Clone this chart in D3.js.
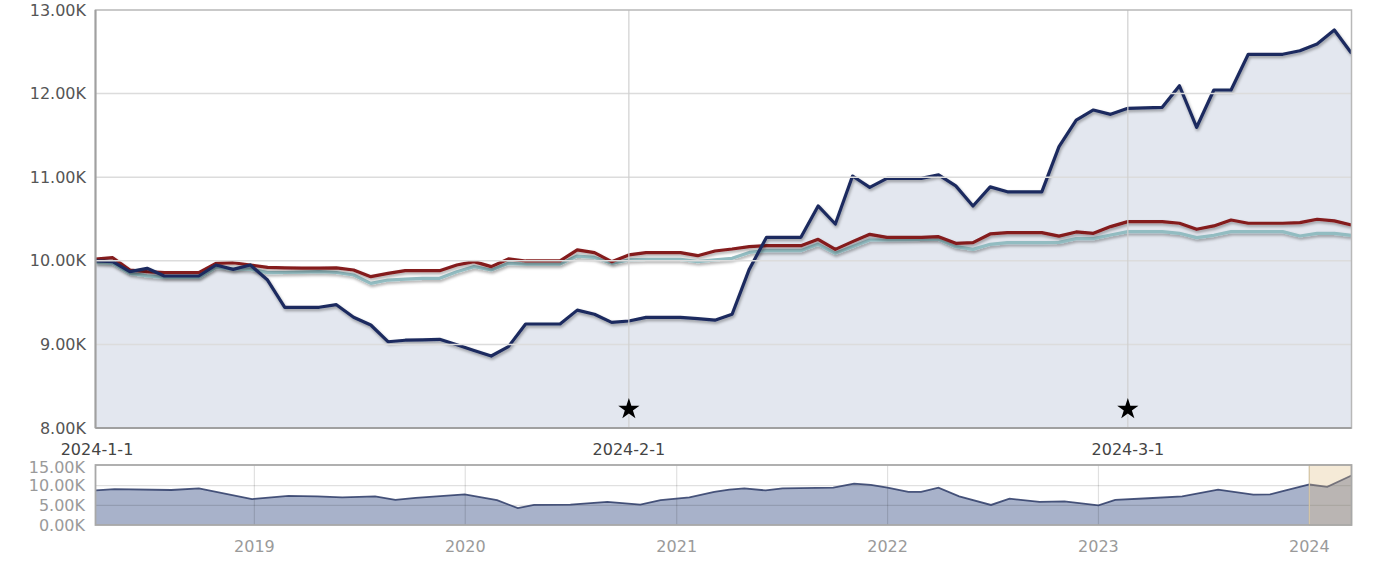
<!DOCTYPE html>
<html><head><meta charset="utf-8">
<script src="https://cdn.jsdelivr.net/npm/d3@7"></script>
<style>
html,body{margin:0;padding:0;background:#fff;}
svg{display:block;font-family:"DejaVu Sans",Verdana,sans-serif;}
</style></head><body>
<svg id="chart" width="1396" height="574"></svg>
<script>
// ---------- data ----------
const startDate = "2024-01-01";
const endDate = "2024-03-14";
const fundValues = [10000,9990,9870,9910,9818,9818,9818,9950,9898,9950,
  9770,9444,9444,9444,9475,9324,9232,9032,9050,9055,
  9061,8995,8928,8861,8973,9244,9244,9244,9410,9360,
  9264,9280,9324,9324,9324,9308,9290,9360,9900,10281,
  10281,10281,10656,10440,11014,10879,10986,10986,10986,11028,
  10896,10656,10884,10825,10825,10825,11365,11684,11804,11752,
  11824,11830,11836,12094,11597,12043,12043,12470,12470,12470,
  12513,12593,12761,12482];
const benchmarkValues = [10020,10037,9890,9870,9858,9858,9858,9970,9977,9950,
  9922,9915,9912,9912,9915,9890,9810,9850,9882,9882,
  9882,9950,9990,9930,10022,9998,9998,9998,10130,10097,
  9990,10070,10097,10097,10097,10061,10117,10141,10170,10181,
  10181,10181,10257,10137,10229,10317,10281,10281,10281,10289,
  10209,10217,10321,10337,10337,10337,10295,10345,10329,10409,
  10469,10469,10469,10449,10377,10417,10488,10449,10449,10449,
  10457,10497,10477,10429];
const categoryValues = [9980,9970,9850,9820,9800,9800,9800,9920,9900,9900,
  9858,9860,9865,9870,9860,9830,9730,9770,9780,9790,
  9790,9870,9930,9890,9970,9960,9960,9960,10057,10040,
  9970,10010,10017,10017,10017,9990,10010,10030,10100,10121,
  10121,10121,10197,10089,10169,10249,10249,10253,10257,10257,
  10169,10137,10197,10217,10217,10217,10220,10265,10265,10309,
  10349,10349,10349,10329,10277,10305,10349,10349,10349,10349,
  10297,10329,10329,10305];
const eventDates = ["2024-02-01","2024-03-01"];
const eventMarkerValue = 8225;
const yTicks = [8000,9000,10000,11000,12000,13000];
const xTickDates = ["2024-01-01","2024-02-01","2024-03-01"];
const xTickLabels = ["2024-1-1","2024-2-1","2024-3-1"];

const navStart = "2018-04-01";
const navDates = ["2018-04-01","2018-05-04","2018-08-10","2018-09-27","2018-12-28","2019-03-01","2019-04-20","2019-06-02","2019-07-29","2019-09-02","2019-10-07","2019-12-31",
  "2020-02-25","2020-04-01","2020-04-29","2020-07-01","2020-09-03","2020-10-30","2020-12-04","2021-01-23","2021-03-07","2021-04-02","2021-04-28","2021-06-04","2021-07-03","2021-09-29","2021-11-04","2021-12-03",
  "2022-01-01","2022-02-06","2022-02-28","2022-03-30","2022-05-05","2022-06-29","2022-07-31","2022-09-21","2022-11-03","2023-01-01","2023-01-30","2023-03-28","2023-05-26","2023-07-27","2023-09-26","2023-10-25","2023-11-16",
  "2024-01-01","2024-02-01","2024-03-14"];
const navValues = [8800,9100,8900,9300,6600,7400,7300,7000,7300,6400,6900,7800,
  6300,4300,5100,5200,5900,5200,6300,7000,8400,9000,9300,8800,9300,9500,10500,10200,
  9500,8400,8400,9500,7300,5100,6700,5900,6000,5000,6400,6800,7300,9000,7700,7800,8600,
  10300,9700,12600];
const navYTicks = [0,5000,10000,15000];
const navYears = ["2019","2020","2021","2022","2023","2024"];
const selectionStart = "2024-01-01";

// ---------- setup ----------
const parse = d3.timeParse("%Y-%m-%d");
const svg = d3.select("#chart");
const W = 1396, H = 574;
const M = {left:95.5, right:1351.5, top:10, bottom:428};
const N = {top:466, bottom:525, frameTop:465};

const defs = svg.append("defs");
const f = defs.append("filter").attr("id","shadow").attr("filterUnits","userSpaceOnUse")
  .attr("x",0).attr("y",0).attr("width",W).attr("height",H);
f.append("feDropShadow").attr("dx",1).attr("dy",2).attr("stdDeviation",1.5)
  .attr("flood-color","#000").attr("flood-opacity",0.35);
defs.append("clipPath").attr("id","plotclip").append("rect")
  .attr("x",M.left).attr("y",M.top).attr("width",M.right-M.left).attr("height",M.bottom-M.top);

const t0 = parse(startDate), t1 = parse(endDate);
const days = fundValues.map((_,i)=>d3.timeDay.offset(t0,i));
const x = d3.scaleTime().domain([t0,t1]).range([M.left,M.right]);
const y = d3.scaleLinear().domain([8000,13000]).range([M.bottom,M.top]);

svg.append("rect").attr("x",M.left).attr("y",M.top).attr("width",M.right-M.left).attr("height",M.bottom-M.top)
  .attr("fill","#fff");

const plot = svg.append("g").attr("clip-path","url(#plotclip)");

svg.append("g").selectAll("line").data(yTicks.slice(1,-1)).join("line")
  .attr("x1",M.left).attr("x2",M.right).attr("y1",d=>y(d)).attr("y2",d=>y(d))
  .attr("stroke","#dcdcdc").attr("stroke-width",1.5);
svg.append("g").selectAll("line").data(xTickDates.slice(1)).join("line")
  .attr("x1",d=>x(parse(d))).attr("x2",d=>x(parse(d))).attr("y1",M.top).attr("y2",M.bottom)
  .attr("stroke","#d0d0d0").attr("stroke-width",1.2);

const area = d3.area().x((d,i)=>x(days[i])).y0(M.bottom).y1(d=>y(d));
plot.append("path").datum(fundValues).attr("d",area)
  .attr("fill","rgb(22,55,122)").attr("fill-opacity",0.12);

const line = d3.line().x((d,i)=>x(days[i])).y(d=>y(d));
plot.append("path").datum(categoryValues).attr("d",line)
  .attr("fill","none").attr("stroke","#92bcc1").attr("stroke-width",3.2).attr("stroke-linejoin","round")
  .attr("filter","url(#shadow)");
plot.append("path").datum(benchmarkValues).attr("d",line)
  .attr("fill","none").attr("stroke","#841a1d").attr("stroke-width",3.2).attr("stroke-linejoin","round")
  .attr("filter","url(#shadow)");
plot.append("path").datum(fundValues).attr("d",line)
  .attr("fill","none").attr("stroke","#1c2b5f").attr("stroke-width",3.2).attr("stroke-linejoin","round")
  .attr("filter","url(#shadow)");

svg.append("g").selectAll("path").data(eventDates).join("path")
  .attr("d",d3.symbol(d3.symbolStar,140))
  .attr("transform",d=>`translate(${x(parse(d))},${y(eventMarkerValue)})`)
  .attr("fill","#000");

svg.append("rect").attr("x",M.left).attr("y",M.top).attr("width",M.right-M.left).attr("height",M.bottom-M.top)
  .attr("fill","none").attr("stroke","#b8b8b8").attr("stroke-width",1.5);
svg.append("line").attr("x1",M.left).attr("x2",M.left).attr("y1",M.top).attr("y2",M.bottom)
  .attr("stroke","#a0a0a0").attr("stroke-width",2);
svg.append("line").attr("x1",M.left).attr("x2",M.right).attr("y1",M.bottom).attr("y2",M.bottom)
  .attr("stroke","#a0a0a0").attr("stroke-width",2);

const yAxis = d3.axisLeft(y).tickValues(yTicks).tickSize(0).tickPadding(0)
  .tickFormat(d=>(d/1000).toFixed(2)+"K");
const ya = svg.append("g").attr("transform",`translate(86,0)`).call(yAxis);
ya.select(".domain").remove();
ya.selectAll("text").attr("font-size",16).attr("fill","#555").attr("font-family","DejaVu Sans, Verdana, sans-serif");

svg.append("g").selectAll("text").data(xTickDates).join("text")
  .attr("x",d=>x(parse(d))+(d===xTickDates[0]?1.5:0)).attr("y",449).attr("dy","0.35em")
  .attr("text-anchor","middle").attr("font-size",16).attr("fill","#444")
  .text((d,i)=>xTickLabels[i]);

// ---------- navigator ----------
const nd = navDates.map(parse);
const nx = d3.scaleTime().domain([parse(navStart),t1]).range([M.left,M.right]);
const ny = d3.scaleLinear().domain([0,15000]).range([N.bottom,N.top]);

svg.append("rect").attr("x",M.left).attr("y",N.frameTop).attr("width",M.right-M.left).attr("height",N.bottom-N.frameTop)
  .attr("fill","#fff");
const ng = svg.append("g");
ng.append("path").datum(navValues)
  .attr("d",d3.area().x((d,i)=>nx(nd[i])).y0(N.bottom).y1(d=>ny(d)))
  .attr("fill","#a8b2ca");
ng.selectAll("line.h").data(navYTicks.slice(1,-1)).join("line").attr("class","h")
  .attr("x1",M.left).attr("x2",M.right).attr("y1",d=>ny(d)).attr("y2",d=>ny(d))
  .attr("stroke","#000").attr("stroke-opacity",0.12).attr("stroke-width",1.2);
ng.selectAll("line.v").data(navYears).join("line").attr("class","v")
  .attr("x1",d=>nx(parse(d+"-01-01"))).attr("x2",d=>nx(parse(d+"-01-01")))
  .attr("y1",N.frameTop).attr("y2",N.bottom)
  .attr("stroke","#000").attr("stroke-opacity",0.12).attr("stroke-width",1.2);
ng.append("path").datum(navValues)
  .attr("d",d3.line().x((d,i)=>nx(nd[i])).y(d=>ny(d)))
  .attr("fill","none").attr("stroke","#2b3a66").attr("stroke-width",1.8).attr("stroke-opacity",0.85);

const sx = nx(parse(selectionStart));
svg.append("rect").attr("x",sx).attr("y",N.frameTop).attr("width",M.right-sx).attr("height",N.bottom-N.frameTop)
  .attr("fill","rgb(225,190,130)").attr("fill-opacity",0.32)
  .attr("stroke","#d8c7a6").attr("stroke-width",1.2);

svg.append("rect").attr("x",M.left).attr("y",N.frameTop).attr("width",M.right-M.left).attr("height",N.bottom-N.frameTop)
  .attr("fill","none").attr("stroke","#a8a8a8").attr("stroke-width",1.8);

svg.append("g").selectAll("text").data(navYTicks).join("text")
  .attr("x",85).attr("y",d=>ny(d)+ (d===15000?1:0)).attr("dy","0.35em").attr("text-anchor","end")
  .attr("font-size",16).attr("fill","#9a9a9a")
  .text(d=>(d/1000).toFixed(2)+"K");
svg.append("g").selectAll("text").data(navYears).join("text")
  .attr("x",d=>nx(parse(d+"-01-01"))).attr("y",546).attr("dy","0.35em").attr("text-anchor","middle")
  .attr("font-size",16).attr("fill","#9a9a9a").text(d=>d);
</script>
</body></html>
